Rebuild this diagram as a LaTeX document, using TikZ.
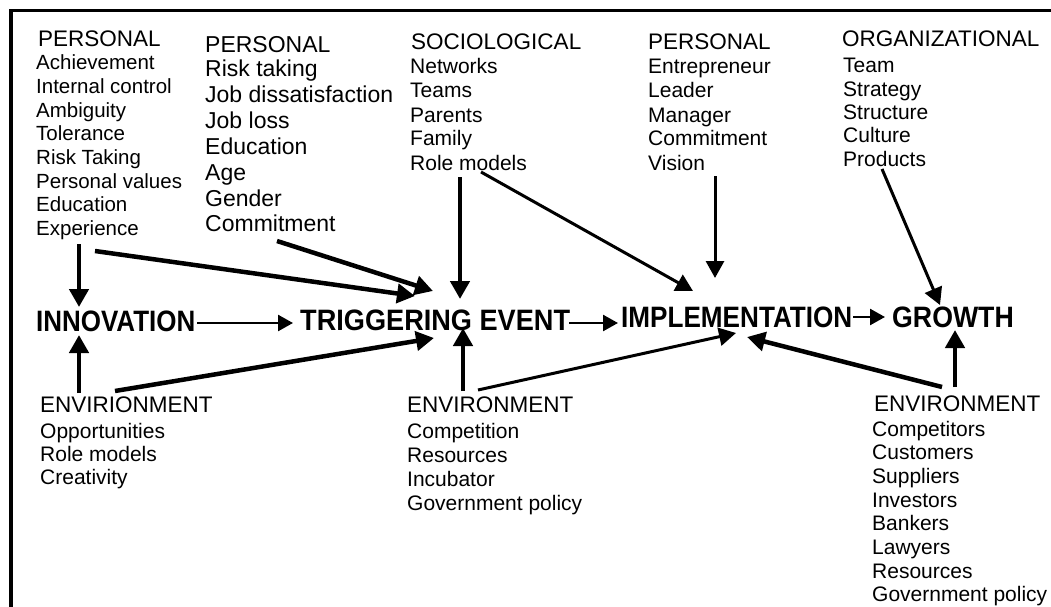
\documentclass[tikz,border=0pt]{standalone}
\usepackage{fontspec}
\setmainfont{Liberation Sans}
\usetikzlibrary{arrows.meta}
\begin{document}
\begin{tikzpicture}[x=1pt,y=-1pt,
  itemA/.style={anchor=base west, inner sep=0pt, font=\fontsize{20.5}{24}\selectfont},
  itemB/.style={anchor=base west, inner sep=0pt, font=\fontsize{23}{26}\selectfont},
  itemC/.style={anchor=base west, inner sep=0pt, font=\fontsize{21}{24}\selectfont},
  headA/.style={anchor=base west, inner sep=0pt, font=\fontsize{22.5}{26}\selectfont},
  headB/.style={anchor=base west, inner sep=0pt, font=\fontsize{23}{26}\selectfont},
  mainlabel/.style={anchor=base west, inner sep=0pt, font=\bfseries\fontsize{29.5}{32}\selectfont},
  bigarr/.style={line width=4.5pt, -{Triangle[length=18pt,width=19pt]}},
  midarr/.style={line width=3pt, -{Triangle[length=17pt,width=18pt]}},
  thinarr/.style={line width=2.5pt, -{Triangle[length=15pt,width=16pt]}},
  frame/.style={line width=3.5pt}
]
\useasboundingbox (0,0) rectangle (1051,607);
% frame (top and left edges visible)
\coordinate (fr1) at (1060,10.5);
\coordinate (fr2) at (11,10.5);
\coordinate (fr3) at (11,615);
\draw[frame] (fr1) -- (fr2) -- (fr3);

% column 1: PERSONAL
\node[headA] (h1) at (38,47) {PERSONAL};
\foreach \t [count=\i from 0] in {Achievement,Internal control,Ambiguity,Tolerance,Risk Taking,Personal values,Education,Experience}
  \node[itemA] (c1-\i) at (36,{70+23.6*\i}) {\t};

% column 2: PERSONAL
\node[headB] (h2) at (205,53) {PERSONAL};
\foreach \t [count=\i from 0] in {Risk taking,Job dissatisfaction,Job loss,Education,Age,Gender,Commitment}
  \node[itemB] (c2-\i) at (205,{77+25.8*\i}) {\t};

% column 3: SOCIOLOGICAL
\node[headA] (h3) at (411,50) {SOCIOLOGICAL};
\foreach \t [count=\i from 0] in {Networks,Teams,Parents,Family,Role models}
  \node[itemC] (c3-\i) at (410,{74+24*\i}) {\t};

% column 4: PERSONAL
\node[headA] (h4) at (648,50) {PERSONAL};
\foreach \t [count=\i from 0] in {Entrepreneur,Leader,Manager,Commitment,Vision}
  \node[itemC] (c4-\i) at (648,{74+24*\i}) {\t};

% column 5: ORGANIZATIONAL
\node[headA] (h5) at (842,47) {ORGANIZATIONAL};
\foreach \t [count=\i from 0] in {Team,Strategy,Structure,Culture,Products}
  \node[itemC] (c5-\i) at (843,{73+23.3*\i}) {\t};

% bottom left
\node[headA] (h6) at (40,412) {ENVIRIONMENT};
\foreach \t [count=\i from 0] in {Opportunities,Role models,Creativity}
  \node[itemC] (c6-\i) at (40,{438+23*\i}) {\t};

% bottom middle
\node[headA] (h7) at (407,412) {ENVIRONMENT};
\foreach \t [count=\i from 0] in {Competition,Resources,Incubator,Government policy}
  \node[itemC] (c7-\i) at (407,{438+24*\i}) {\t};

% bottom right
\node[headA] (h8) at (874,411) {ENVIRONMENT};
\foreach \t [count=\i from 0] in {Competitors,Customers,Suppliers,Investors,Bankers,Lawyers,Resources,Government policy}
  \node[itemC] (c8-\i) at (872,{436+23.7*\i}) {\t};

% main stages
\node[mainlabel] (innov) at (36,331) {\scalebox{0.88}[1]{INNOVATION}};
\node[mainlabel] (trig) at (300,330) {\scalebox{0.92}[1]{TRIGGERING EVENT}};
\node[mainlabel] (impl) at (621,327) {\scalebox{0.885}[1]{IMPLEMENTATION}};
\node[mainlabel] (grow) at (892,327) {\scalebox{0.905}[1]{GROWTH}};

% arrow end points
\coordinate (a1s) at (79,244);  \coordinate (a1e) at (79,307);
\coordinate (a2s) at (79,393);  \coordinate (a2e) at (79,335);
\coordinate (a3s) at (197,323); \coordinate (a3e) at (293,323);
\coordinate (a4s) at (95,251);  \coordinate (a4e) at (415,296);
\coordinate (a5s) at (277,241); \coordinate (a5e) at (433,291);
\coordinate (a6s) at (460,177); \coordinate (a6e) at (460,299);
\coordinate (a7s) at (481,172); \coordinate (a7e) at (693,291);
\coordinate (a8s) at (715,176); \coordinate (a8e) at (715,278);
\coordinate (a9s) at (882,169); \coordinate (a9e) at (940,305);
\coordinate (a10s) at (569,323); \coordinate (a10e) at (618,323);
\coordinate (a11s) at (853,317); \coordinate (a11e) at (885,317);
\coordinate (a12s) at (115,391); \coordinate (a12e) at (434,338);
\coordinate (a13s) at (463,391); \coordinate (a13e) at (463,328);
\coordinate (a14s) at (478,390); \coordinate (a14e) at (736,333);
\coordinate (a15s) at (942,387); \coordinate (a15e) at (747,337);
\coordinate (a16s) at (955,387); \coordinate (a16e) at (955,330);

\draw[bigarr] (a1s) -- (a1e);
\draw[bigarr] (a2s) -- (a2e);
\draw[thinarr] (a3s) -- (a3e);
\draw[bigarr] (a4s) -- (a4e);
\draw[bigarr] (a5s) -- (a5e);
\draw[bigarr] (a6s) -- (a6e);
\draw[midarr] (a7s) -- (a7e);
\draw[midarr] (a8s) -- (a8e);
\draw[midarr] (a9s) -- (a9e);
\draw[thinarr] (a10s) -- (a10e);
\draw[thinarr] (a11s) -- (a11e);
\draw[bigarr] (a12s) -- (a12e);
\draw[bigarr] (a13s) -- (a13e);
\draw[midarr] (a14s) -- (a14e);
\draw[bigarr] (a15s) -- (a15e);
\draw[bigarr] (a16s) -- (a16e);
\end{tikzpicture}
\end{document}
